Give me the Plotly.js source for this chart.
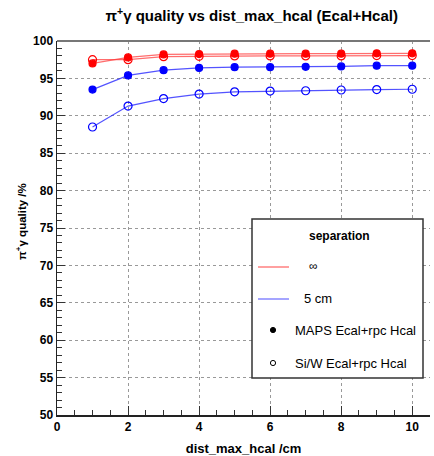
<!DOCTYPE html>
<html>
<head>
<meta charset="utf-8">
<script src="https://cdn.plot.ly/plotly-3.0.1.min.js"></script>
<style>
  html, body { margin: 0; padding: 0; background: #fff; }
  #chart { width: 434px; height: 456px; }
</style>
</head>
<body>
<div id="chart"></div>
<script>
// Distance cut on the Hcal shower maximum (cm)
const distMaxHcal = [1, 2, 3, 4, 5, 6, 7, 8, 9, 10];

// pi+ gamma reconstruction quality (%)
const mapsInf   = [97.0, 97.8, 98.2, 98.25, 98.3, 98.3, 98.3, 98.3, 98.35, 98.35];
const siwInf    = [97.5, 97.5, 97.9, 97.95, 98.0, 98.0, 98.0, 98.0, 98.05, 98.05];
const maps5cm   = [93.5, 95.4, 96.1, 96.4, 96.5, 96.5, 96.55, 96.6, 96.7, 96.7];
const siw5cm    = [88.5, 91.3, 92.3, 92.9, 93.2, 93.3, 93.35, 93.45, 93.5, 93.55];

const xTicks = [0, 2, 4, 6, 8, 10];
const yTicks = [50, 55, 60, 65, 70, 75, 80, 85, 90, 95, 100];

const RED = 'rgba(255,0,0,1)';
const RED_LINE = 'rgba(255,60,60,0.75)';
const BLUE = 'rgba(0,0,255,1)';
const BLUE_LINE = 'rgba(40,40,255,0.8)';

function series(y, lineCol, markCol, filled) {
  return {
    x: distMaxHcal, y: y, type: 'scatter', mode: 'lines+markers',
    line: { color: lineCol, width: 1.2 },
    marker: {
      symbol: filled ? 'circle' : 'circle-open',
      size: filled ? 7 : 8,
      color: markCol,
      line: { color: markCol, width: 1.2 }
    },
    showlegend: false, hoverinfo: 'skip'
  };
}

const traces = [
  series(siw5cm, BLUE_LINE, BLUE, false),
  series(maps5cm, BLUE_LINE, BLUE, true),
  series(siwInf, RED_LINE, RED, false),
  series(mapsInf, RED_LINE, RED, true)
];

// plot-area edges in pixels, and helpers to place legend items in paper units
const L = 57, R = 430, T = 41, B = 415;
const px = v => (v - L) / (R - L);
const py = v => (B - v) / (B - T);

const font = 'Liberation Sans, Arial, sans-serif';

// small round legend symbol centred at (cx, cy) pixels
function dot(cx, cy, filled) {
  const r = 2.6;
  return {
    type: 'circle', xref: 'paper', yref: 'paper', layer: 'above',
    x0: px(cx - r), x1: px(cx + r), y0: py(cy + r), y1: py(cy - r),
    fillcolor: filled ? '#000' : '#fff', line: { color: '#000', width: 1 }
  };
}

const layout = {
  width: 434, height: 456,
  margin: { l: L, r: 434 - R, t: T, b: 456 - B, pad: 0 },
  paper_bgcolor: '#fff', plot_bgcolor: '#fff',
  font: { family: font, color: '#000' },
  title: {
    text: '<b>π<sup>+</sup>γ quality vs dist_max_hcal (Ecal+Hcal)</b>',
    font: { size: 15, family: font, color: '#000' },
    x: 0.58, xanchor: 'center', y: 0.965, yanchor: 'middle'
  },
  xaxis: {
    range: [0, 10.5], tickvals: xTicks, ticktext: xTicks.map(String),
    ticks: 'inside', ticklen: 9, tickwidth: 1, tickcolor: '#333',
    minor: { dtick: 0.5, tick0: 0, ticks: 'inside', ticklen: 5, tickcolor: '#333', showgrid: false },
    showline: true, linecolor: '#222', linewidth: 1.5,
    showgrid: true, gridcolor: '#999', griddash: 'dot', gridwidth: 1,
    zeroline: false,
    tickfont: { size: 12, family: font, color: '#000', weight: 'bold' },
    title: { text: '<b>dist_max_hcal /cm</b>', font: { size: 13, family: font, color: '#000' }, standoff: 11 }
  },
  yaxis: {
    range: [50, 100], tickvals: yTicks, ticktext: yTicks.map(String),
    ticks: 'inside', ticklen: 8, tickwidth: 1, tickcolor: '#333',
    minor: { dtick: 1, tick0: 50, ticks: 'inside', ticklen: 5, tickcolor: '#333', showgrid: false },
    showline: true, linecolor: '#222', linewidth: 1.5,
    showgrid: true, gridcolor: '#999', griddash: 'dot', gridwidth: 1,
    zeroline: false,
    tickfont: { size: 12, family: font, color: '#000', weight: 'bold' }
  },
  shapes: [
    // top frame
    { type: 'line', xref: 'paper', yref: 'paper', x0: 0, x1: 1, y0: 1, y1: 1,
      line: { color: '#777', width: 2 } },
    // legend box
    { type: 'rect', xref: 'paper', yref: 'paper', layer: 'above',
      x0: px(252), x1: px(423), y0: py(378), y1: py(219),
      fillcolor: '#fff', line: { color: '#333', width: 1.5 } },
    { type: 'line', xref: 'paper', yref: 'paper', layer: 'above',
      x0: px(258), x1: px(289), y0: py(267), y1: py(267),
      line: { color: 'rgba(255,80,80,0.9)', width: 1.2 } },
    { type: 'line', xref: 'paper', yref: 'paper', layer: 'above',
      x0: px(258), x1: px(289), y0: py(299), y1: py(299),
      line: { color: 'rgba(90,90,255,0.9)', width: 1.2 } },
    dot(273, 330, true),
    dot(273, 363, false)
  ],
  annotations: [
    // y-axis title
    { xref: 'paper', yref: 'paper', x: px(21), y: py(222), xanchor: 'center', yanchor: 'middle',
      textangle: -90, text: '<b>π<sup>+</sup>γ quality /%</b>', showarrow: false,
      font: { size: 11.5, family: font, color: '#000' } },
    // legend contents
    { xref: 'paper', yref: 'paper', x: px(339), y: py(236), xanchor: 'center', yanchor: 'middle',
      text: '<b>separation</b>', showarrow: false, font: { size: 12, family: font, color: '#000' } },
    { xref: 'paper', yref: 'paper', x: px(307), y: py(266), xanchor: 'left', yanchor: 'middle',
      text: '∞', showarrow: false, font: { size: 12, family: font, color: '#000' } },
    { xref: 'paper', yref: 'paper', x: px(302), y: py(298), xanchor: 'left', yanchor: 'middle',
      text: '5 cm', showarrow: false, font: { size: 13, family: font, color: '#000' } },
    { xref: 'paper', yref: 'paper', x: px(293), y: py(330), xanchor: 'left', yanchor: 'middle',
      text: 'MAPS Ecal+rpc Hcal', showarrow: false, font: { size: 13, family: font, color: '#000' } },
    { xref: 'paper', yref: 'paper', x: px(293), y: py(363), xanchor: 'left', yanchor: 'middle',
      text: 'Si/W Ecal+rpc Hcal', showarrow: false, font: { size: 13, family: font, color: '#000' } }
  ]
};

Plotly.newPlot('chart', traces, layout, { staticPlot: true, displayModeBar: false });
</script>
</body>
</html>
